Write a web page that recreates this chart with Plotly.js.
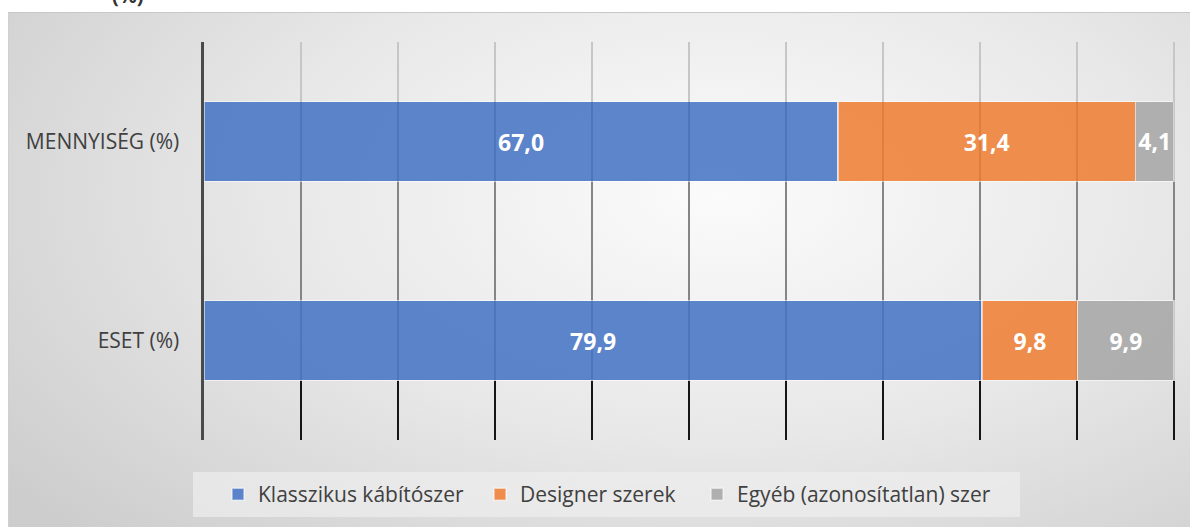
<!DOCTYPE html>
<html><head><meta charset="utf-8">
<script src="https://cdn.plot.ly/plotly-3.0.1.min.js"></script>
<style>
html,body{margin:0;padding:0;background:#fff;}
#bg{position:absolute;left:8px;top:12px;width:1182px;height:515px;
 background:radial-gradient(ellipse 75% 95% at 60% 35%, #fbfbfb 0%, #e8e8e8 50%, #cdcdcd 100%);
 border-top:1px solid #c8c8c8;border-left:1px solid #d0d0d0;}
#legbox{position:absolute;left:193px;top:472px;width:827px;height:45px;background:rgba(238,238,238,0.7);}
#chart{position:absolute;left:0;top:0;width:1190px;height:527px;}
</style></head>
<body>
<div id="bg"></div>
<div id="legbox"></div>
<div id="chart"></div>
<script>
const categories = ['MENNYISÉG (%)', 'ESET (%)'];
const seriesNames = ['Klasszikus kábítószer', 'Designer szerek', 'Egyéb (azonosítatlan) szer'];
const klasszikus = [67.0, 79.9];
const designer = [31.4, 9.8];
const egyeb = [4.1, 9.9];
const colors = ['rgba(68,114,196,0.86)', 'rgba(237,125,49,0.86)', 'rgba(165,165,165,0.86)'];
const legendIds = ['legend', 'legend2', 'legend3'];

const fmt = v => v.toFixed(1).replace('.', ',');
const series = [klasszikus, designer, egyeb];
const traces = series.map((vals, i) => ({
  type: 'bar', orientation: 'h',
  name: seriesNames[i], legend: legendIds[i],
  y: categories, x: vals,
  text: vals.map(fmt), texttemplate: '%{text}',
  textposition: 'inside', insidetextanchor: 'middle', textangle: 0,
  textfont: {family: 'Open Sans, sans-serif', size: 23, color: '#ffffff', weight: 'bold'},
  marker: {color: colors[i], line: {color: 'rgba(255,255,255,0.55)', width: 1.5}},
  hoverinfo: 'name+text'
}));
// empty helper subplots that only carry the shaded gridline bands
traces.push({type: 'scatter', x: [], y: [], xaxis: 'x2', yaxis: 'y2', showlegend: false, hoverinfo: 'skip'});
traces.push({type: 'scatter', x: [], y: [], xaxis: 'x3', yaxis: 'y3', showlegend: false, hoverinfo: 'skip'});

const XR = [0, 100.3];
const gridAxis = (color, anchor) => ({range: XR, dtick: 10, tick0: 0, showticklabels: false, showgrid: true,
  gridcolor: color, gridwidth: 1.6, zeroline: false, showline: false, fixedrange: true, anchor: anchor});
const hiddenY = dom => ({domain: dom, range: [0, 1], showgrid: false, zeroline: false, showline: false,
  showticklabels: false, fixedrange: true});
const legFont = {family: 'Open Sans, sans-serif', size: 21, color: '#404040'};
const legBase = {orientation: 'h', y: -0.137, yanchor: 'middle', xanchor: 'left',
  bgcolor: 'rgba(0,0,0,0)', font: legFont, itemwidth: 30};
const plotW = 970 * 100.3 / 100;

const layout = {
  width: 1190, height: 527,
  margin: {l: 204, r: 1190 - 204 - plotW, t: 42, b: 87},
  paper_bgcolor: 'rgba(0,0,0,0)', plot_bgcolor: 'rgba(0,0,0,0)',
  barmode: 'stack', barnorm: 'percent', bargap: 0.6,
  showlegend: true,
  font: {family: 'Open Sans, sans-serif', color: '#404040'},
  xaxis: gridAxis('#858585', 'y'),
  yaxis: {autorange: 'reversed', showgrid: false, zeroline: false,
          showline: true, linecolor: '#4a4a4a', linewidth: 3.5,
          ticks: '', ticklabelstandoff: 17, fixedrange: true,
          tickfont: {family: 'Open Sans, sans-serif', size: 21, color: '#404040'}},
  xaxis2: gridAxis('#c6c6c6', 'y2'),
  yaxis2: hiddenY([0.852, 1]),
  xaxis3: gridAxis('#161616', 'y3'),
  yaxis3: hiddenY([0, 0.148]),
  legend: Object.assign({}, legBase, {x: (218 - 204) / plotW}),
  legend2: Object.assign({}, legBase, {x: (480 - 204) / plotW}),
  legend3: Object.assign({}, legBase, {x: (697 - 204) / plotW}),
  annotations: [{xref: 'paper', yref: 'paper', x: -0.097, y: 1, yanchor: 'bottom', yshift: 31,
                 showarrow: false, text: '<b>(%)</b>',
                 font: {family: 'Open Sans, sans-serif', size: 20, color: '#333'}}]
};
Plotly.newPlot('chart', traces, layout, {displayModeBar: false, staticPlot: true});
</script>
</body></html>
